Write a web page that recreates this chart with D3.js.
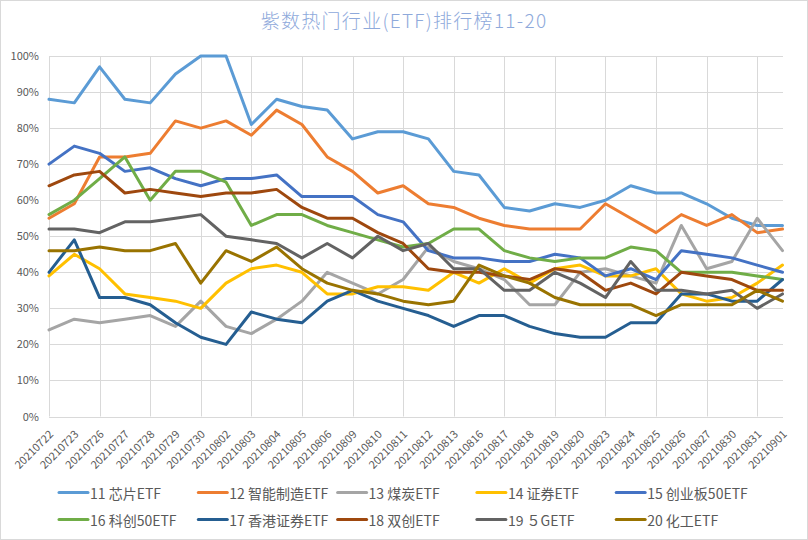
<!DOCTYPE html>
<html>
<head>
<meta charset="utf-8">
<script src="https://cdn.jsdelivr.net/npm/d3@7"></script>
<style>
  html, body { margin: 0; padding: 0; background: #fff; }
  svg { display: block; }
</style>
</head>
<body>
<div id="chart"></div>
<script>
// ---------- data ----------
const title = "紫数热门行业(ETF)排行榜11-20";
const dates = ["20210722","20210723","20210726","20210727","20210728","20210729","20210730",
  "20210802","20210803","20210804","20210805","20210806","20210809","20210810","20210811",
  "20210812","20210813","20210816","20210817","20210818","20210819","20210820","20210823",
  "20210824","20210825","20210826","20210827","20210830","20210831","20210901"];
const seriesNames = ["11 芯片ETF","12 智能制造ETF","13 煤炭ETF","14 证券ETF","15 创业板50ETF",
  "16 科创50ETF","17 香港证券ETF","18 双创ETF","19 ５GETF","20 化工ETF"];
const s11 = [88,87,97,88,87,95,100,100,81,88,86,85,77,79,79,77,68,67,58,57,59,58,60,64,62,62,59,55,53,53];
const s12 = [55,59,72,72,73,82,80,82,78,85,81,72,68,62,64,59,58,55,53,52,52,52,59,55,51,56,53,56,51,52];
const s13 = [24,27,26,27,28,25,32,25,23,27,32,40,37,34,38,47,43,41,38,31,31,40,41,39,37,53,41,43,55,46];
const s14 = [39,45,41,34,33,32,30,37,41,42,40,34,34,36,36,35,40,37,41,37,41,42,39,39,41,34,32,33,37,42];
const s15 = [70,75,73,68,69,66,64,66,66,67,61,61,61,56,54,46,44,44,43,43,45,44,39,41,38,46,45,44,42,40];
const s16 = [56,60,66,72,60,68,68,65,53,56,56,53,51,49,47,48,52,52,46,44,43,44,44,47,46,40,40,40,39,38];
const s17 = [40,49,33,33,31,26,22,20,29,27,26,32,35,32,30,28,25,28,28,25,23,22,22,26,26,34,34,32,32,38];
const s18 = [64,67,68,62,63,62,61,62,62,63,58,55,55,51,48,41,40,40,39,38,41,40,35,37,34,40,39,38,35,35];
const s19 = [52,52,51,54,54,55,56,50,49,48,44,48,44,50,46,48,41,41,35,35,40,37,33,43,35,35,34,35,30,34];
const s20 = [46,46,47,46,46,48,37,46,43,47,41,37,35,34,32,31,32,42,39,37,33,31,31,31,28,31,31,31,35,32];
const yTicks = [0,10,20,30,40,50,60,70,80,90,100];
const colors = ["#5B9BD5","#ED7D31","#A5A5A5","#FFC000","#4472C4","#70AD47","#255E91","#9E480E","#636363","#997300"];

const allSeries = [s11,s12,s13,s14,s15,s16,s17,s18,s19,s20].map((v,i)=>({name:seriesNames[i], values:v, color:colors[i]}));

// ---------- layout ----------
const W = 808, H = 540;
const plot = {left: 49, right: 782.5, top: 56, bottom: 416.5};
const FONT = "'Noto Sans CJK SC','Noto Sans',sans-serif";

const svg = d3.select("#chart").append("svg").attr("width", W).attr("height", H);
svg.append("rect").attr("x",0.5).attr("y",0.5).attr("width",W-1).attr("height",H-1)
  .attr("fill","#fff").attr("stroke","#D9D9D9");

const x = d3.scalePoint().domain(dates).range([plot.left, plot.right]);
const y = d3.scaleLinear().domain([0,100]).range([plot.bottom, plot.top]);

// title
svg.append("text").attr("x", 404).attr("y", 28).attr("text-anchor","middle")
  .attr("font-family", FONT).attr("font-size", 19).attr("font-weight", 300)
  .attr("letter-spacing", 1.3)
  .attr("fill","#8EA9DB").text(title);

// horizontal grid + y axis labels
const yAxis = d3.axisLeft(y).tickValues(yTicks).tickSize(-(plot.right-plot.left)).tickFormat(d=>d+"%");
const gy = svg.append("g").attr("transform",`translate(${plot.left},0)`).call(yAxis);
gy.select(".domain").remove();
gy.selectAll(".tick line").attr("stroke","#D9D9D9").attr("shape-rendering","crispEdges");
gy.selectAll(".tick text").attr("x",-10).attr("fill","#595959")
  .attr("font-family", FONT).attr("font-size", 11);

// vertical grid every second category
const xGrid = dates.filter((d,i)=>i%2===0);
svg.append("g").selectAll("line").data(xGrid).join("line")
  .attr("x1",d=>Math.round(x(d))+0.5).attr("x2",d=>Math.round(x(d))+0.5)
  .attr("y1",plot.top).attr("y2",plot.bottom)
  .attr("stroke","#D9D9D9");

// x axis labels
const xAxis = d3.axisBottom(x).tickSize(0).tickPadding(0);
const gx = svg.append("g").attr("transform",`translate(0,${plot.bottom})`).call(xAxis);
gx.select(".domain").remove();
gx.selectAll(".tick text")
  .attr("font-family", FONT).attr("font-size", 11).attr("fill","#595959")
  .attr("text-anchor","end").attr("dy", null).attr("y", null)
  .attr("dominant-baseline","central")
  .attr("transform","translate(1,15) rotate(-45)");

// lines
const line = d3.line().x((d,i)=>x(dates[i])).y(d=>y(d));
svg.append("g").selectAll("path").data(allSeries).join("path")
  .attr("d", d=>line(d.values)).attr("fill","none")
  .attr("stroke", d=>d.color).attr("stroke-width", 3)
  .attr("stroke-linejoin","round").attr("stroke-linecap","round");

// legend
const lg = svg.append("g");
allSeries.forEach((s,i)=>{
  const col = i%5, row = Math.floor(i/5);
  const lx = 59 + col*139.3, ly = 492.5 + row*27;
  lg.append("line").attr("x1",lx).attr("x2",lx+29).attr("y1",ly).attr("y2",ly)
    .attr("stroke",s.color).attr("stroke-width",3).attr("stroke-linecap","round");
  lg.append("text").attr("x",lx+31).attr("y",ly).attr("dominant-baseline","central")
    .attr("font-family",FONT).attr("font-size",14).attr("fill","#595959").text(s.name);
});
</script>
</body>
</html>
